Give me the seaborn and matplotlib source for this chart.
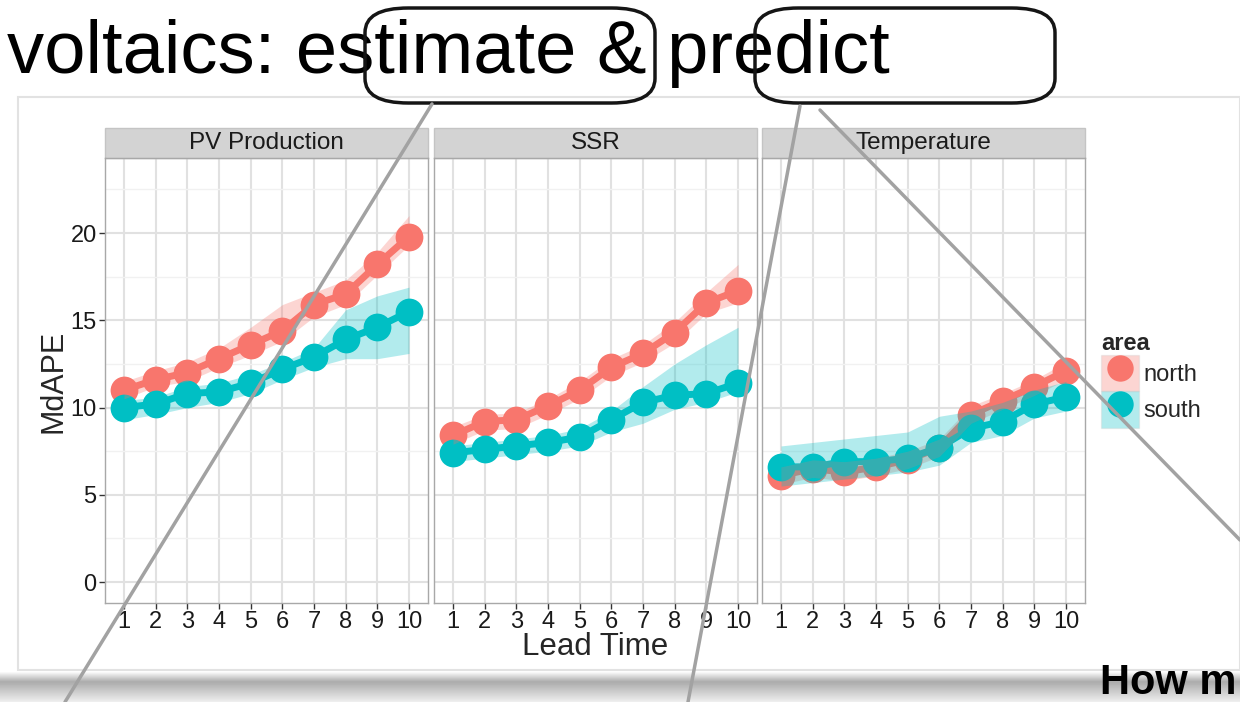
import numpy as np
import pandas as pd
import matplotlib.pyplot as plt
import seaborn as sns
from matplotlib.patches import Rectangle, FancyBboxPatch, Patch
from matplotlib.lines import Line2D
from matplotlib.legend_handler import HandlerTuple

# --- data (MdAPE by lead time) ---
lead_time = [1, 2, 3, 4, 5, 6, 7, 8, 9, 10]
panels = ['PV Production', 'SSR', 'Temperature']
areas = ['north', 'south']

pv_north = [11.0, 11.6, 12.0, 12.8, 13.6, 14.4, 15.9, 16.5, 18.2, 19.8]
pv_north_lo = [10.5, 11.2, 11.5, 12.3, 13.0, 13.8, 15.2, 15.9, 17.6, 19.3]
pv_north_hi = [11.5, 12.1, 12.6, 13.4, 14.6, 15.9, 16.6, 17.3, 18.9, 21.0]
pv_south = [10.0, 10.2, 10.8, 10.9, 11.4, 12.2, 12.9, 13.9, 14.6, 15.5]
pv_south_lo = [9.3, 9.6, 10.0, 10.3, 10.8, 11.6, 12.3, 12.8, 12.8, 13.1]
pv_south_hi = [10.4, 10.6, 11.2, 11.4, 11.9, 12.6, 13.4, 15.6, 16.4, 16.9]

ssr_north = [8.4, 9.2, 9.3, 10.1, 11.0, 12.3, 13.1, 14.3, 16.0, 16.7]
ssr_north_lo = [7.9, 8.7, 8.8, 9.6, 10.5, 11.8, 12.6, 13.7, 15.4, 16.0]
ssr_north_hi = [8.9, 9.6, 9.7, 10.5, 11.5, 12.8, 13.6, 14.9, 16.6, 18.2]
ssr_south = [7.4, 7.6, 7.8, 8.0, 8.3, 9.3, 10.3, 10.7, 10.8, 11.4]
ssr_south_lo = [6.9, 7.1, 7.3, 7.5, 7.8, 8.6, 9.1, 9.9, 10.3, 10.9]
ssr_south_hi = [7.8, 8.0, 8.2, 8.4, 8.8, 9.8, 11.2, 12.5, 13.6, 14.6]

temp_north = [6.1, 6.5, 6.3, 6.6, 7.0, 7.7, 9.6, 10.4, 11.2, 12.1]
temp_north_lo = [5.6, 6.0, 5.8, 6.1, 6.5, 7.2, 9.1, 9.9, 10.7, 11.6]
temp_north_hi = [6.6, 7.0, 6.9, 7.1, 7.5, 8.2, 10.1, 10.8, 11.6, 12.6]
temp_south = [6.6, 6.6, 6.9, 6.9, 7.1, 7.7, 8.8, 9.2, 10.2, 10.6]
temp_south_lo = [5.5, 5.7, 5.9, 6.1, 6.3, 6.7, 8.0, 8.4, 9.4, 9.8]
temp_south_hi = [7.8, 8.0, 8.2, 8.4, 8.6, 9.5, 9.8, 10.3, 11.0, 11.5]

series = {
    'PV Production': {'north': (pv_north, pv_north_lo, pv_north_hi),
                      'south': (pv_south, pv_south_lo, pv_south_hi)},
    'SSR': {'north': (ssr_north, ssr_north_lo, ssr_north_hi),
            'south': (ssr_south, ssr_south_lo, ssr_south_hi)},
    'Temperature': {'north': (temp_north, temp_north_lo, temp_north_hi),
                    'south': (temp_south, temp_south_lo, temp_south_hi)},
}

rows = []
for p in panels:
    for a in areas:
        mid, lo, hi = series[p][a]
        for t, m, l, h in zip(lead_time, mid, lo, hi):
            rows.append({'panel': p, 'area': a, 'Lead Time': t, 'MdAPE': m, 'lo': l, 'hi': h})
df = pd.DataFrame(rows)

palette = {'north': '#F8766D', 'south': '#00BFC4'}

sns.set_style('white')
plt.rcParams['font.family'] = ['Liberation Sans', 'DejaVu Sans']

W, H = 1240, 702
fig = plt.figure(figsize=(12.4, 7.02), dpi=100)
fig.patch.set_facecolor('white')


def fx(px):
    return px / W


def fy(py):
    return 1 - py / H


# slide background pieces
fig.add_artist(Rectangle((fx(18), fy(670)), fx(1240 - 18), (670 - 97) / H,
                         transform=fig.transFigure, facecolor='white',
                         edgecolor='#e2e2e2', lw=1.5, zorder=0))
shade = fig.add_axes([0, 0, 1, 30 / H], zorder=0)
grad = np.concatenate([np.linspace(0.97, 0.68, 10), np.linspace(0.68, 0.93, 20)])
shade.imshow(np.tile(grad[:, None], (1, 50)), cmap='gray', vmin=0, vmax=1,
             aspect='auto', extent=[0, 1, 0, 1])
shade.axis('off')

# panels
lefts = [105, 434, 762]
pw = 323
top, bottom = 158, 603
for i, p in enumerate(panels):
    ax = fig.add_axes([fx(lefts[i]), fy(bottom), fx(pw), (bottom - top) / H], zorder=2)
    sub = df[df['panel'] == p]
    sns.lineplot(data=sub, x='Lead Time', y='MdAPE', hue='area', palette=palette,
                 marker='o', markersize=20, markeredgewidth=0, linewidth=5,
                 legend=False, errorbar=None, ax=ax, zorder=3)
    for a in areas:
        s = sub[sub['area'] == a]
        ax.fill_between(s['Lead Time'], s['lo'], s['hi'], color=palette[a],
                        alpha=0.3, lw=0, zorder=4)

    ax.set_xlim(0.4, 10.6)
    ax.set_ylim(-1.2, 24.3)
    ax.set_xticks(lead_time)
    ax.set_yticks([0, 5, 10, 15, 20])
    ax.set_yticks([2.5, 7.5, 12.5, 17.5, 22.5], minor=True)
    ax.grid(which='major', color='#e1e1e1', lw=1.5)
    ax.grid(which='minor', axis='y', color='#f1f1f1', lw=1.0)
    ax.set_axisbelow(True)
    ax.set_xlabel('')
    ax.set_ylabel('')
    for sp in ax.spines.values():
        sp.set_color('#a8a8a8')
        sp.set_linewidth(1)
    ax.tick_params(axis='both', which='major', length=4, width=1, color='#333333',
                   labelsize=17, labelcolor='#1a1a1a', pad=2, bottom=True, left=True)
    ax.tick_params(which='minor', length=0)
    if i > 0:
        ax.tick_params(axis='y', left=False, labelleft=False)

    # facet strip
    sh = 30 / (bottom - top)
    ax.add_patch(Rectangle((0, 1), 1, sh, transform=ax.transAxes, clip_on=False,
                           facecolor='#d3d3d3', edgecolor='#c4c4c4', lw=1))
    ax.text(0.5, 1 + sh / 2, p, transform=ax.transAxes, ha='center', va='center',
            fontsize=17.5, color='#1a1a1a')

fig.text(fx(54), fy(381), 'MdAPE', rotation=90, ha='center', va='center', fontsize=22)
fig.text(fx(595), fy(647), 'Lead Time', ha='center', va='center', fontsize=22.5)

# legend: pale ribbon square with the point on top
handles = [(Patch(facecolor=palette[a], alpha=0.3, edgecolor='#cccccc'),
            Line2D([], [], ls='none', marker='o', markersize=19, markeredgewidth=0,
                   color=palette[a])) for a in areas]
leg = fig.legend(handles, areas, handler_map={tuple: HandlerTuple(ndivide=1, pad=0)},
                 loc='upper left', bbox_to_anchor=(fx(1101), fy(332)), frameon=False,
                 fontsize=17, title='area', title_fontproperties={'weight': 'bold', 'size': 17},
                 handlelength=1.6, handleheight=2.0, labelspacing=0.0,
                 handletextpad=0.2, borderpad=0, borderaxespad=0, alignment='left')

# slide title and callouts
fig.text(fx(890), fy(54), 'voltaics: estimate & predict', ha='right', va='center',
         fontsize=53.5, color='black', zorder=5)
for x0, x1 in [(365, 655), (755, 1055)]:
    fig.add_artist(FancyBboxPatch((fx(x0), fy(103)), fx(x1 - x0), 95 / H,
                                  boxstyle='round,pad=0,rounding_size=0.035',
                                  transform=fig.transFigure, facecolor='none',
                                  edgecolor='#151515', lw=2.5, zorder=6))
for (xa, ya), (xb, yb) in [((432, 104), (65, 702)), ((800, 106), (688, 702)),
                           ((820, 110), (1240, 540))]:
    fig.add_artist(Line2D([fx(xa), fx(xb)], [fy(ya), fy(yb)], transform=fig.transFigure,
                          color='#a2a2a2', lw=2.5, zorder=10))
fig.text(fx(1100), fy(683), 'How m', ha='left', va='center', fontsize=30,
         fontweight='bold', color='black', zorder=11)

fig.savefig('out.png', dpi=100)
